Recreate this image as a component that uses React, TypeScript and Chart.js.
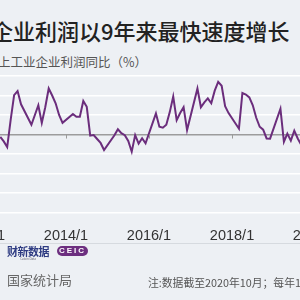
import React, { useEffect, useRef } from "react";
import { Chart, registerables } from "chart.js";

Chart.register(...registerables);

const months: string[] = [
  "2012/6", "2012/7", "2012/8", "2012/9", "2012/10", "2012/11", "2012/12",
  "2013/3", "2013/4", "2013/5", "2013/6", "2013/7", "2013/8", "2013/9", "2013/10", "2013/11", "2013/12",
  "2014/3", "2014/4", "2014/5", "2014/6", "2014/7", "2014/8", "2014/9", "2014/10", "2014/11", "2014/12",
  "2015/3", "2015/4", "2015/5", "2015/6", "2015/7", "2015/8", "2015/9", "2015/10", "2015/11", "2015/12",
  "2016/3", "2016/4", "2016/5", "2016/6", "2016/7", "2016/8", "2016/9", "2016/10", "2016/11", "2016/12",
  "2017/3", "2017/4", "2017/5", "2017/6", "2017/7", "2017/8", "2017/9", "2017/10", "2017/11", "2017/12",
  "2018/3", "2018/4", "2018/5", "2018/6", "2018/7", "2018/8", "2018/9", "2018/10", "2018/11", "2018/12",
  "2019/3", "2019/4", "2019/5", "2019/6", "2019/7", "2019/8", "2019/9",
];

const profitYoY: number[] = [
  -1.2, -3.5, -6.4, 7.5, 20.2, 22.3, 15.5,
  5, 10, 15, 6, 14, 23.6, 20, 16, 10, 6,
  10.5, 9.1, 9.1, 17.2, 14.2, -0.6, -0.3, -2.3, -4.3, -7.9,
  -0.4, 2.7, 0.7, -0.3, -3.3, -8.8, -0.3, -4.6, -1.9, -4.5,
  10.8, 4.0, 3.5, 5.0, 11.5, 19.5, 7.4, 11, 14, 2.3,
  23.6, 14, 16.5, 18.5, 16, 22.5, 27, 25, 14.5, 11,
  3, 21.3, 20.5, 19, 15, 8.6, 4, 2.5, -2, -2.1,
  13.2, -3.7, 0.5, -3.1, 2, -2, -5.3,
];

const tickLabels: string[] = ["2012/1", "2014/1", "2016/1", "2018/1", "2020/1"];

const title = "企业利润以9年来最快速度增长";
const subtitle = "上工业企业利润同比（%）";
const source = "国家统计局";
const note = "注:数据截至2020年10月；每年1";

function monthIndex(label: string): number {
  const [y, m] = label.split("/").map(Number);
  return (y - 2012) * 12 + (m - 1);
}

const zeroTicks = {
  id: "zeroTicks",
  afterDatasetsDraw(chart: any) {
    const xs = chart.scales.x;
    const ys = chart.scales.y;
    const ctx = chart.ctx;
    const y0 = ys.getPixelForValue(0);
    ctx.save();
    ctx.strokeStyle = "#9a9a9a";
    ctx.lineWidth = 1;
    xs.ticks.forEach((t: any) => {
      const x = Math.round(xs.getPixelForValue(t.value)) + 0.5;
      ctx.beginPath();
      ctx.moveTo(x, y0);
      ctx.lineTo(x, y0 + 4);
      ctx.stroke();
    });
    ctx.restore();
  },
};

function LineChart() {
  const ref = useRef<HTMLCanvasElement | null>(null);
  useEffect(() => {
    if (!ref.current) return;
    const points = months.map((m, i) => ({ x: monthIndex(m), y: profitYoY[i] }));
    const chart = new Chart(ref.current, {
      type: "line",
      data: {
        datasets: [
          {
            data: points,
            borderColor: "#6b2d7c",
            borderWidth: 2,
            pointRadius: 0,
            tension: 0,
            fill: false,
          },
        ],
      },
      options: {
        animation: false,
        responsive: false,
        maintainAspectRatio: false,
        layout: { padding: { top: 4, left: 0, right: 0, bottom: 8 } },
        plugins: { legend: { display: false }, tooltip: { enabled: false } },
        scales: {
          x: {
            type: "linear",
            min: -12.43,
            max: 109.0,
            grid: { display: false, drawTicks: false },
            border: { display: false },
            afterBuildTicks: (scale: any) => {
              scale.ticks = tickLabels.map((l) => ({ value: monthIndex(l) }));
            },
            afterFit: (scale: any) => {
              scale.height = 27.4;
            },
            ticks: {
              autoSkip: false,
              maxRotation: 0,
              padding: 15,
              color: "#333333",
              font: { family: "Liberation Sans", size: 14.5 },
              callback: (v: any) => {
                const found = tickLabels.find((l) => monthIndex(l) === v);
                return found ?? "";
              },
            },
          },
          y: {
            min: -40,
            max: 30,
            ticks: { display: false, stepSize: 10 },
            border: { display: false },
            afterFit: (scale: any) => {
              scale.width = 0;
            },
            grid: {
              drawTicks: false,
              color: (c: any) => (c.tick && c.tick.value === 0 ? "#9c9c9c" : "#ffffff"),
              lineWidth: 1.5,
            },
          },
        },
      },
      plugins: [zeroTicks],
    });
    return () => chart.destroy();
  }, []);
  return (
    <canvas
      ref={ref}
      width={420}
      height={176}
      style={{ position: "absolute", left: -60, top: 72, width: 420, height: 176 }}
    />
  );
}

export default function App() {
  return (
    <div
      style={{
        position: "fixed",
        left: 0,
        top: 0,
        width: 300,
        height: 300,
        overflow: "hidden",
        background: "#edf0f4",
        fontFamily: "'Noto Sans CJK SC', 'Noto Sans', sans-serif",
      }}
    >
      <div
        style={{
          position: "absolute",
          left: -9,
          top: 16,
          fontSize: 22,
          lineHeight: "28px",
          color: "#222",
          whiteSpace: "nowrap",
          fontWeight: 500,
        }}
      >
        {title}
      </div>
      <div
        style={{
          position: "absolute",
          left: -2,
          top: 53,
          fontSize: 12.5,
          lineHeight: "18px",
          color: "#555",
          whiteSpace: "nowrap",
        }}
      >
        {subtitle}
      </div>
      <LineChart />
      <div
        style={{
          position: "absolute",
          left: 0,
          top: 243,
          width: 300,
          height: 1,
          background: "#d6dadf",
        }}
      />
      <div style={{ position: "absolute", left: 7, top: 245, whiteSpace: "nowrap" }}>
        <div
          style={{
            fontSize: 11,
            lineHeight: "12px",
            fontWeight: 700,
            color: "#2e3b82",
            letterSpacing: -0.5,
          }}
        >
          财新数据
        </div>
        <div style={{ fontSize: 3, lineHeight: "4px", color: "#667", textAlign: "center", width: 42 }}>
          Caixin Data
        </div>
      </div>
      <div
        style={{
          position: "absolute",
          left: 57,
          top: 246,
          width: 31,
          height: 10,
          borderRadius: 5,
          background: "#6d2f80",
          color: "#fff",
          fontFamily: "'Liberation Sans', sans-serif",
          fontSize: 8,
          lineHeight: "10px",
          fontWeight: 700,
          textAlign: "center",
          letterSpacing: 2,
        }}
      >
        CEIC
      </div>
      <div
        style={{
          position: "absolute",
          left: 7,
          top: 271,
          fontSize: 13,
          lineHeight: "18px",
          color: "#666",
          whiteSpace: "nowrap",
        }}
      >
        {source}
      </div>
      <div
        style={{
          position: "absolute",
          left: 148,
          top: 274,
          fontSize: 10.8,
          lineHeight: "16px",
          color: "#555",
          whiteSpace: "nowrap",
        }}
      >
        {note}
      </div>
    </div>
  );
}
